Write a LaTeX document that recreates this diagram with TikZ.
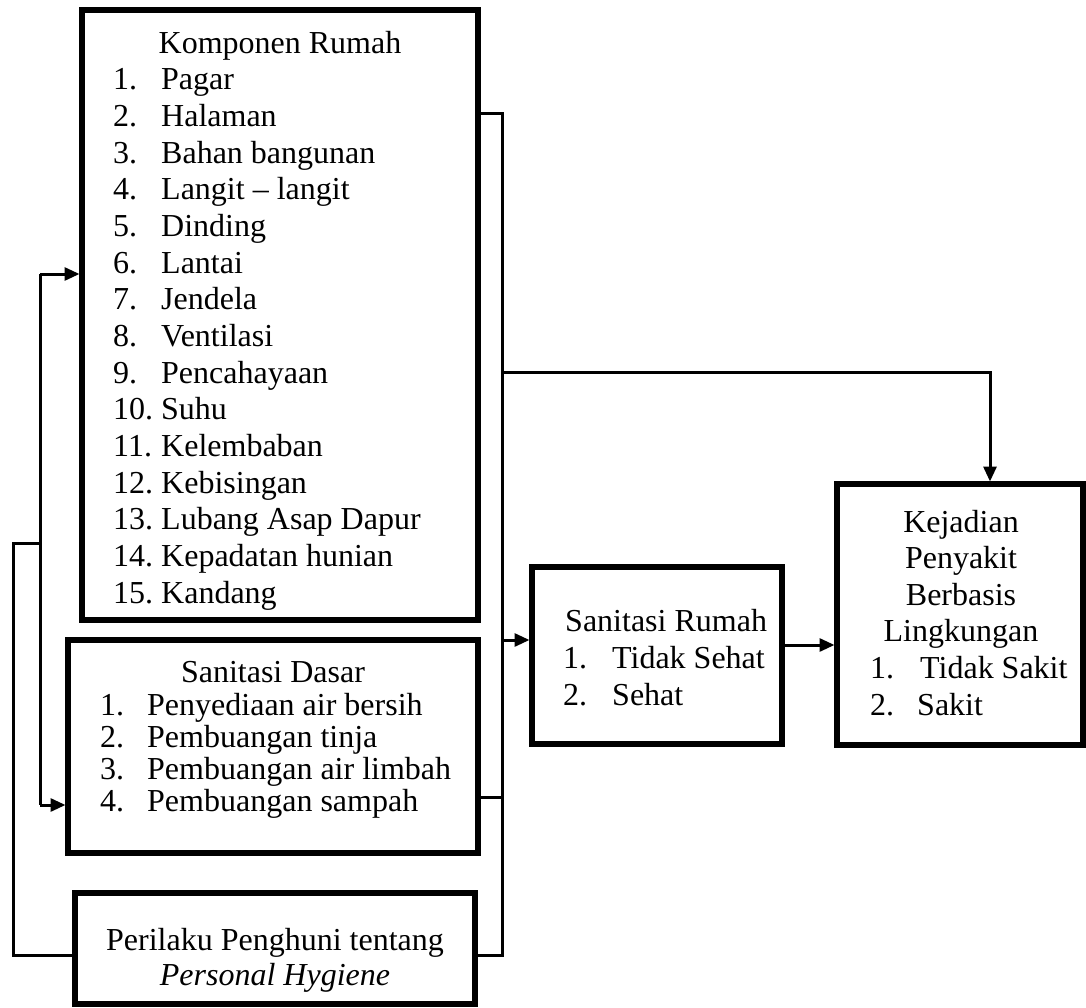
\documentclass[tikz,border=0pt]{standalone}
\usepackage{fontspec}
\setmainfont{Liberation Serif}
\usetikzlibrary{arrows.meta,calc}
\begin{document}
\begin{tikzpicture}[x=1pt,y=-1pt,
  box/.style={draw,line width=5.5pt,outer sep=0pt,inner sep=0pt,anchor=north west},
  conn/.style={line width=3pt},
  arr/.style={conn,-{Triangle[length=15pt,width=13pt]},shorten >=2.5pt},
  txt/.style={anchor=base west,inner sep=0pt,font=\fontsize{32}{38}\selectfont},
  ctxt/.style={anchor=base,inner sep=0pt,font=\fontsize{32}{38}\selectfont}]
\useasboundingbox[fill=white] (0,0) rectangle (1086,1008);

% boxes
\node[box,minimum width=396pt,minimum height=610pt] (komp) at (82,10) {};
\node[box,minimum width=410pt,minimum height=213pt] (sdasar) at (68,640) {};
\node[box,minimum width=400pt,minimum height=111pt] (peril) at (75,893) {};
\node[box,minimum width=250pt,minimum height=177pt] (srumah) at (532,567) {};
\node[box,minimum width=246pt,minimum height=261pt] (kej) at (837,484) {};

% Komponen Rumah text
\node[ctxt] (ktitle) at (280,53.5) {Komponen Rumah};
\foreach \n/\t [count=\i] in {1./Pagar,2./Halaman,3./Bahan bangunan,4./Langit -- langit,5./Dinding,6./Lantai,7./Jendela,8./Ventilasi,9./Pencahayaan,10./Suhu,11./Kelembaban,12./Kebisingan,13./Lubang Asap Dapur,14./Kepadatan hunian,15./Kandang}{
  \node[txt] (kn\i) at (113,{90+36.65*(\i-1)}) {\n};
  \node[txt] (kt\i) at (161,{90+36.65*(\i-1)}) {\t};
}

% Sanitasi Dasar text
\node[ctxt] (dtitle) at (273,682) {Sanitasi Dasar};
\foreach \n/\t [count=\i] in {1./Penyediaan air bersih,2./Pembuangan tinja,3./Pembuangan air limbah,4./Pembuangan sampah}{
  \node[txt] (dn\i) at (100,{715+32*(\i-1)}) {\n};
  \node[txt] (dt\i) at (147,{715+32*(\i-1)}) {\t};
}

% Perilaku text
\node[ctxt] (p1) at (275,950) {Perilaku Penghuni tentang};
\node[ctxt] (p2) at (275,985) {\itshape Personal Hygiene};

% Sanitasi Rumah text
\node[txt] (rtitle) at (565,631) {Sanitasi Rumah};
\node[txt] (rn1) at (563,668) {1.};
\node[txt] (rt1) at (612,668) {Tidak Sehat};
\node[txt] (rn2) at (563,705) {2.};
\node[txt] (rt2) at (612,705) {Sehat};

% Kejadian text
\node[ctxt] (j1) at (961,532) {Kejadian};
\node[ctxt] (j2) at (961,568) {Penyakit};
\node[ctxt] (j3) at (961,605) {Berbasis};
\node[ctxt] (j4) at (961,641) {Lingkungan};
\node[txt] (jn1) at (870,678) {1.};
\node[txt] (jt1) at (920,678) {Tidak Sakit};
\node[txt] (jn2) at (870,715) {2.};
\node[txt] (jt2) at (917,715) {Sakit};

% junction coordinates
\coordinate (L1) at (40,274);
\coordinate (L2) at (40,805);
\coordinate (L3) at (40,543);
\coordinate (L4) at (13,543);
\coordinate (L5) at (13,955);
\coordinate (R1) at (502,114);
\coordinate (R2) at (502,955);
\coordinate (R3) at (502,797);
\coordinate (R4) at (502,640);
\coordinate (R5) at (502,372);
\coordinate (R6) at (990,372);
\coordinate (S1) at (782,645);

% left connectors
\draw[arr] (L1) -- (L1 -| komp.west);
\draw[conn] (L1) -- (L2);
\draw[arr] (L2) -- (L2 -| sdasar.west);
\draw[conn] (L3) -- (L4) -- (L5) -- (L5 -| peril.west);

% right connectors
\draw[conn] (R1 -| komp.east) -- (R1) -- (R2) -- (R2 -| peril.east);
\draw[conn] (R3 -| sdasar.east) -- (R3);
\draw[arr] (R4) -- (R4 -| srumah.west);
\draw[arr] (R5) -- (R6) -- (R6 |- kej.north);
\draw[arr] (S1 -| srumah.east) -- (S1 -| kej.west);
\end{tikzpicture}
\end{document}
